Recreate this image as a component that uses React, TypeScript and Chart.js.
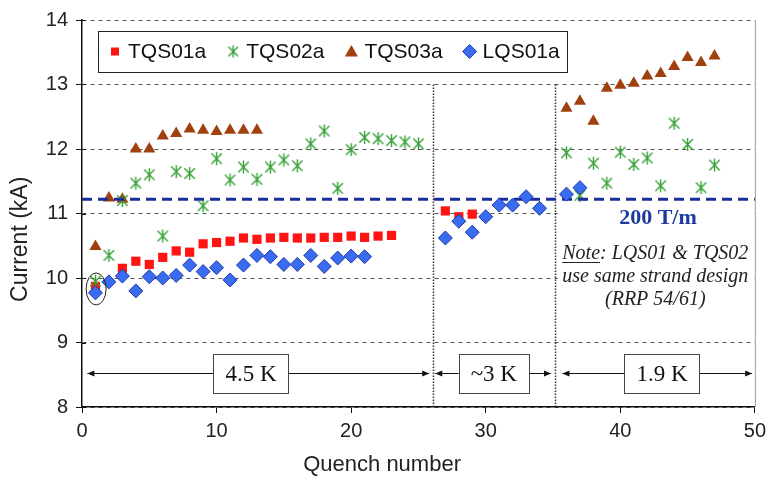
import React, { useEffect, useRef } from 'react';
import { Chart, registerables } from 'chart.js';

Chart.register(...registerables);

// ---- Data ----
const tqs01X = [1, 3, 4, 5, 6, 7, 8, 9, 10, 11, 12, 13, 14, 15, 16, 17, 18, 19, 20, 21, 22, 23, 27, 28, 29];
const tqs01Y = [9.87, 10.15, 10.26, 10.21, 10.32, 10.42, 10.4, 10.53, 10.55, 10.57, 10.62, 10.6, 10.62, 10.63, 10.62, 10.62, 10.63, 10.63, 10.65, 10.63, 10.65, 10.66, 11.04, 10.95, 10.99];

const tqs02X = [1, 2, 3, 4, 5, 6, 7, 8, 9, 10, 11, 12, 13, 14, 15, 16, 17, 18, 19, 20, 21, 22, 23, 24, 25, 36, 37, 38, 39, 40, 41, 42, 43, 44, 45, 46, 47];
const tqs02Y = [9.95, 10.35, 11.2, 11.47, 11.6, 10.65, 11.65, 11.62, 11.12, 11.85, 11.52, 11.72, 11.53, 11.72, 11.83, 11.74, 12.08, 12.28, 11.39, 11.99, 12.18, 12.16, 12.13, 12.11, 12.08, 11.94, 11.28, 11.78, 11.47, 11.95, 11.76, 11.86, 11.43, 12.4, 12.07, 11.4, 11.75];

const tqs03X = [1, 2, 3, 4, 5, 6, 7, 8, 9, 10, 11, 12, 13, 36, 37, 38, 39, 40, 41, 42, 43, 44, 45, 46, 47];
const tqs03Y = [10.49, 11.24, 11.22, 12.0, 12.0, 12.2, 12.24, 12.31, 12.29, 12.27, 12.29, 12.29, 12.29, 12.63, 12.74, 12.43, 12.94, 12.99, 13.02, 13.13, 13.17, 13.28, 13.42, 13.34, 13.44];

const lqs01X = [1, 2, 3, 4, 5, 6, 7, 8, 9, 10, 11, 12, 13, 14, 15, 16, 17, 18, 19, 20, 21, 27, 28, 29, 30, 31, 32, 33, 34, 36, 37];
const lqs01Y = [9.77, 9.94, 10.03, 9.8, 10.02, 10.0, 10.04, 10.2, 10.1, 10.16, 9.97, 10.2, 10.35, 10.33, 10.21, 10.21, 10.35, 10.18, 10.31, 10.34, 10.33, 10.62, 10.88, 10.71, 10.95, 11.13, 11.13, 11.26, 11.08, 11.3, 11.4];

const seriesLabels = ['TQS01a', 'TQS02a', 'TQS03a', 'LQS01a'];

const gradientLineX = [0, 50];
const gradientLineY = 11.22;
const gradientLabel = '200 T/m';
const gradientLabelPos = { x: 42.8, y: 10.93 };

const noteLines = ['Note', ': LQS01 & TQS02', 'use same strand design', '(RRP 54/61)'];
const notePos = { x: 42.6, y: 10.38 };
const noteBoxX = [35.35, 49.85];
const noteBoxY = [11.12, 9.5];

const separatorX = [26.1, 35.15];
const separatorTop = 13;

const regionLabels = ['4.5 K', '~3 K', '1.9 K'];
const regionStart = [0.4, 26.25, 35.7];
const regionEnd = [25.8, 34.85, 49.8];
const regionLabelX = [12.56, 30.6, 43.1];
const regionY = 8.52;

const circledPoint = { x: 1.05, y: 9.83 };

const xTicks = [0, 10, 20, 30, 40, 50];
const yTicks = [8, 9, 10, 11, 12, 13, 14];

const xTitle = 'Quench number';
const yTitle = 'Current (kA)';
const xTitlePos = { x: 22.3, y: 465 };
const yTitlePos = { x: 21, y: 10.6 };

// ---- Styles ----
const RED = '#ff1414';
const GREEN = '#35a035';
const BROWN = '#a0400e';
const BLUE_FILL = '#3a6cf2';
const BLUE_EDGE = '#1e3aa6';
const LINE_BLUE = '#1a2c9c';
const SANS = '"Liberation Sans", Arial, sans-serif';
const SERIF = '"Liberation Serif", "Times New Roman", serif';

function makeStar(r: number, color: string) {
  const c = document.createElement('canvas');
  const s = Math.ceil(2 * r + 4);
  c.width = s;
  c.height = s;
  const g = c.getContext('2d')!;
  const m = s / 2;
  g.strokeStyle = color;
  g.lineWidth = 1.4;
  g.beginPath();
  const d = r * 0.8;
  g.moveTo(m - d, m - d); g.lineTo(m + d, m + d);
  g.moveTo(m + d, m - d); g.lineTo(m - d, m + d);
  g.moveTo(m, m - r); g.lineTo(m, m + r);
  g.stroke();
  return c;
}

function zip(xs: number[], ys: number[]) {
  return xs.map((x, i) => ({ x, y: ys[i] }));
}

export default function App() {
  const ref = useRef<HTMLCanvasElement>(null);

  useEffect(() => {
    const star = makeStar(6.5, GREEN);
    const legendStar = makeStar(6, GREEN);

    const drawMarker = (ctx: CanvasRenderingContext2D, kind: number, cx: number, cy: number) => {
      ctx.save();
      ctx.setLineDash([]);
      if (kind === 0) {
        ctx.fillStyle = RED;
        ctx.fillRect(cx - 4, cy - 4, 8, 8);
      } else if (kind === 1) {
        ctx.drawImage(legendStar, cx - legendStar.width / 2, cy - legendStar.height / 2);
      } else if (kind === 2) {
        ctx.fillStyle = BROWN;
        ctx.beginPath();
        ctx.moveTo(cx, cy - 6.5);
        ctx.lineTo(cx + 6.5, cy + 5);
        ctx.lineTo(cx - 6.5, cy + 5);
        ctx.closePath();
        ctx.fill();
      } else {
        ctx.fillStyle = BLUE_FILL;
        ctx.strokeStyle = BLUE_EDGE;
        ctx.lineWidth = 1;
        ctx.beginPath();
        ctx.moveTo(cx, cy - 7);
        ctx.lineTo(cx + 7, cy);
        ctx.lineTo(cx, cy + 7);
        ctx.lineTo(cx - 7, cy);
        ctx.closePath();
        ctx.fill();
        ctx.stroke();
      }
      ctx.restore();
    };

    const arrowHead = (ctx: CanvasRenderingContext2D, x: number, y: number, dir: number) => {
      ctx.beginPath();
      ctx.moveTo(x, y);
      ctx.lineTo(x - dir * 7, y - 3);
      ctx.lineTo(x - dir * 7, y + 3);
      ctx.closePath();
      ctx.fill();
    };

    const annot = {
      id: 'annot',
      beforeDatasetsDraw(chart: any) {
        const { ctx, chartArea, scales } = chart;
        const xs = scales.x;
        const ys = scales.y;
        ctx.save();
        // white background behind the note text (hides grid lines)
        ctx.fillStyle = '#fff';
        const nbx0 = xs.getPixelForValue(noteBoxX[0]);
        const nbx1 = xs.getPixelForValue(noteBoxX[1]);
        const nby0 = ys.getPixelForValue(noteBoxY[0]);
        const nby1 = ys.getPixelForValue(noteBoxY[1]);
        ctx.fillRect(nbx0, nby0, nbx1 - nbx0, nby1 - nby0);
        // right border
        ctx.strokeStyle = '#a0a0a0';
        ctx.lineWidth = 1;
        ctx.beginPath();
        ctx.moveTo(chartArea.right + 0.5, chartArea.top);
        ctx.lineTo(chartArea.right + 0.5, chartArea.bottom);
        ctx.stroke();
        // inward ticks on y axis
        ctx.strokeStyle = '#111';
        ctx.lineWidth = 1;
        for (const v of yTicks) {
          const py = Math.round(ys.getPixelForValue(v)) + 0.5;
          ctx.beginPath();
          ctx.moveTo(chartArea.left, py);
          ctx.lineTo(chartArea.left + 4, py);
          ctx.stroke();
        }
        // dotted separators
        ctx.strokeStyle = '#333';
        ctx.lineWidth = 1.5;
        ctx.setLineDash([1.5, 1.5]);
        for (const s of separatorX) {
          const px = Math.round(xs.getPixelForValue(s)) + 0.5;
          ctx.beginPath();
          ctx.moveTo(px, ys.getPixelForValue(separatorTop));
          ctx.lineTo(px, ys.getPixelForValue(8));
          ctx.stroke();
        }
        ctx.setLineDash([]);
        // region arrows and labels
        const ay = Math.round(ys.getPixelForValue(regionY)) + 0.5;
        ctx.strokeStyle = '#111';
        ctx.fillStyle = '#111';
        ctx.lineWidth = 1;
        regionLabels.forEach((lab, i) => {
          const x0 = xs.getPixelForValue(regionStart[i]);
          const x1 = xs.getPixelForValue(regionEnd[i]);
          ctx.beginPath();
          ctx.moveTo(x0, ay);
          ctx.lineTo(x1, ay);
          ctx.stroke();
          arrowHead(ctx, x0, ay, -1);
          arrowHead(ctx, x1, ay, 1);
          ctx.font = `23px ${SERIF}`;
          const tw = ctx.measureText(lab).width;
          const cx = xs.getPixelForValue(regionLabelX[i]);
          const bw = tw + 24;
          const bh = 39;
          ctx.fillStyle = '#fff';
          ctx.fillRect(cx - bw / 2, ay - bh / 2, bw, bh);
          ctx.strokeStyle = '#444';
          ctx.strokeRect(Math.round(cx - bw / 2) + 0.5, Math.round(ay - bh / 2) + 0.5, Math.round(bw), bh);
          ctx.fillStyle = '#111';
          ctx.textAlign = 'center';
          ctx.textBaseline = 'middle';
          ctx.fillText(lab, cx, ay + 1);
          ctx.strokeStyle = '#111';
        });
        ctx.restore();
      },
      afterDatasetsDraw(chart: any) {
        const { ctx, chartArea, scales } = chart;
        const xs = scales.x;
        const ys = scales.y;
        ctx.save();
        // ellipse around first point
        ctx.strokeStyle = '#222';
        ctx.lineWidth = 1;
        ctx.beginPath();
        ctx.ellipse(xs.getPixelForValue(circledPoint.x), ys.getPixelForValue(circledPoint.y), 10, 16, 0, 0, Math.PI * 2);
        ctx.stroke();

        // 200 T/m label
        ctx.fillStyle = '#1f3a9e';
        ctx.font = `bold 22px ${SERIF}`;
        ctx.textAlign = 'center';
        ctx.textBaseline = 'middle';
        ctx.fillText(gradientLabel, xs.getPixelForValue(gradientLabelPos.x), ys.getPixelForValue(gradientLabelPos.y));

        // note
        ctx.fillStyle = '#222';
        ctx.font = `italic 20px ${SERIF}`;
        const nx = xs.getPixelForValue(notePos.x);
        let ny = ys.getPixelForValue(notePos.y);
        const w0 = ctx.measureText(noteLines[0]).width;
        const w1 = ctx.measureText(noteLines[1]).width;
        const start = nx - (w0 + w1) / 2;
        ctx.textAlign = 'left';
        ctx.fillText(noteLines[0], start, ny);
        ctx.fillText(noteLines[1], start + w0, ny);
        ctx.strokeStyle = '#222';
        ctx.lineWidth = 1;
        ctx.beginPath();
        ctx.moveTo(start, Math.round(ny + 9) + 0.5);
        ctx.lineTo(start + w0, Math.round(ny + 9) + 0.5);
        ctx.stroke();
        ctx.textAlign = 'center';
        ny += 23;
        ctx.fillText(noteLines[2], nx, ny);
        ny += 23;
        ctx.fillText(noteLines[3], nx, ny);

        // legend box
        ctx.font = `21px ${SANS}`;
        const bx = chartArea.left + 16;
        const by = chartArea.top + 11;
        const bh = 41;
        let x = bx + 17;
        const positions: number[] = [];
        seriesLabels.forEach((lab) => {
          positions.push(x);
          x += 13 + ctx.measureText(lab).width + 27;
        });
        const lastW = ctx.measureText(seriesLabels[seriesLabels.length - 1]).width;
        const bw = positions[positions.length - 1] + 13 + lastW + 7 - bx;
        ctx.fillStyle = '#fff';
        ctx.fillRect(bx, by, bw, bh);
        ctx.strokeStyle = '#222';
        ctx.lineWidth = 1;
        ctx.strokeRect(Math.round(bx) + 0.5, Math.round(by) + 0.5, Math.round(bw), bh);
        const cy = by + bh / 2;
        seriesLabels.forEach((lab, i) => {
          drawMarker(ctx, i, positions[i], cy);
          ctx.fillStyle = '#111';
          ctx.textAlign = 'left';
          ctx.textBaseline = 'middle';
          ctx.font = `21px ${SANS}`;
          ctx.fillText(lab, positions[i] + 13, cy + 1);
        });
        ctx.restore();
      },
      afterDraw(chart: any) {
        const { ctx, scales } = chart;
        ctx.save();
        ctx.fillStyle = '#222';
        ctx.font = `22px ${SANS}`;
        ctx.textAlign = 'center';
        ctx.textBaseline = 'middle';
        ctx.fillText(xTitle, scales.x.getPixelForValue(xTitlePos.x), xTitlePos.y);
        ctx.translate(yTitlePos.x, scales.y.getPixelForValue(yTitlePos.y));
        ctx.rotate(-Math.PI / 2);
        ctx.font = `23px ${SANS}`;
        ctx.fillText(yTitle, 0, 0);
        ctx.restore();
      },
    };

    const chart = new Chart(ref.current!, {
      type: 'scatter',
      data: {
        datasets: [
          {
            label: seriesLabels[3],
            data: zip(lqs01X, lqs01Y),
            pointStyle: 'rectRot',
            pointRadius: 7,
            backgroundColor: BLUE_FILL,
            borderColor: BLUE_EDGE,
            borderWidth: 1,
            order: 1,
          },
          {
            label: 'gradient',
            type: 'line',
            data: gradientLineX.map((x) => ({ x, y: gradientLineY })),
            showLine: true,
            pointRadius: 0,
            borderColor: LINE_BLUE,
            borderWidth: 3,
            borderDash: [10, 6],
            fill: false,
            order: 2,
          } as any,
          {
            label: seriesLabels[1],
            data: zip(tqs02X, tqs02Y),
            pointStyle: star as any,
            pointRadius: 6.5,
            backgroundColor: GREEN,
            borderColor: GREEN,
            order: 3,
          },
          {
            label: seriesLabels[0],
            data: zip(tqs01X, tqs01Y),
            pointStyle: 'rect',
            pointRadius: 6.5,
            backgroundColor: RED,
            borderColor: RED,
            borderWidth: 0,
            order: 4,
          },
          {
            label: seriesLabels[2],
            data: zip(tqs03X, tqs03Y),
            pointStyle: 'triangle',
            pointRadius: 7,
            backgroundColor: BROWN,
            borderColor: BROWN,
            borderWidth: 0,
            order: 5,
          },
        ],
      },
      options: {
        animation: false,
        responsive: false,
        maintainAspectRatio: false,
        devicePixelRatio: 1,
        layout: { padding: { top: 17, right: 13, left: 0, bottom: 0 } },
        plugins: {
          legend: { display: false },
          tooltip: { enabled: false },
        },
        scales: {
          x: {
            type: 'linear',
            min: 0,
            max: 50,
            afterFit: (s: any) => { s.height = 70; },
            afterBuildTicks: (s: any) => { s.ticks = xTicks.map((v) => ({ value: v })); },
            ticks: {
              font: { family: SANS, size: 20 },
              color: '#222',
              padding: 6,
            },
            grid: {
              drawOnChartArea: false,
              drawTicks: true,
              tickLength: 6,
              tickColor: '#111',
            },
            border: { display: true, color: '#111', width: 1.5 },
            title: { display: false },
          },
          y: {
            type: 'linear',
            min: 8,
            max: 14,
            afterFit: (s: any) => { s.width = 82; },
            afterBuildTicks: (s: any) => { s.ticks = yTicks.map((v) => ({ value: v })); },
            ticks: {
              font: { family: SANS, size: 20 },
              color: '#222',
              padding: 8,
            },
            grid: {
              color: '#555',
              lineWidth: 1,
              drawTicks: true,
              tickLength: 6,
              tickColor: '#111',
              tickBorderDash: [],
            },
            border: { display: true, color: '#111', width: 1.5, dash: [4, 4] },
            title: { display: false },
          },
        },
      },
      plugins: [annot],
    } as any);

    return () => chart.destroy();
  }, []);

  return (
    <div style={{ position: 'absolute', left: 0, top: 0, width: 772, height: 477, background: '#fff' }}>
      <canvas ref={ref} width={772} height={477} style={{ width: 772, height: 477, display: 'block' }} />
    </div>
  );
}
